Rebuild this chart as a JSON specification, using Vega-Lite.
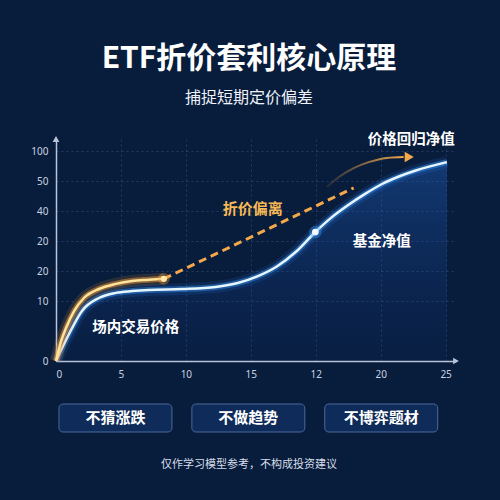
{
  "$schema": "https://vega.github.io/schema/vega-lite/v6.json",
  "background": "#081c3c",
  "padding": {"left": 30, "top": 43, "right": 32, "bottom": 31},
  "config": {
    "font": "Noto Sans CJK SC",
    "view": {"stroke": null},
    "axis": {"labelFont": "Noto Sans", "labelFontSize": 10, "labelColor": "#c8d2e0", "ticks": false, "domainColor": "#b8c4d8", "domainWidth": 1.5, "gridColor": "#4a6a9a", "gridOpacity": 0.4, "gridDash": [2, 3], "labelPadding": 8, "title": null}
  },
  "datasets": {
    "nav": [
      {"x": 0, "y": 0}, {"x": 1.0, "y": 0.9}, {"x": 2.0, "y": 1.67}, {"x": 3.3, "y": 2.1},
      {"x": 4.6, "y": 2.27}, {"x": 5.85, "y": 2.33}, {"x": 7.15, "y": 2.37}, {"x": 9.7, "y": 2.4},
      {"x": 12.3, "y": 2.47}, {"x": 14.0, "y": 2.6}, {"x": 15.5, "y": 2.82}, {"x": 17.0, "y": 3.15},
      {"x": 18.5, "y": 3.65}, {"x": 19.97, "y": 4.3}, {"x": 21.2, "y": 4.78}, {"x": 22.5, "y": 5.2},
      {"x": 23.8, "y": 5.57}, {"x": 25.1, "y": 5.9}, {"x": 26.4, "y": 6.15}, {"x": 27.7, "y": 6.35},
      {"x": 30.1, "y": 6.63}
    ],
    "price": [
      {"x": 0, "y": 0}, {"x": 0.4, "y": 0.67}, {"x": 0.77, "y": 1.1}, {"x": 1.4, "y": 1.67},
      {"x": 2.15, "y": 2.1}, {"x": 3.3, "y": 2.4}, {"x": 4.6, "y": 2.57}, {"x": 5.85, "y": 2.67},
      {"x": 7.15, "y": 2.71}, {"x": 8.3, "y": 2.74}
    ],
    "dash": [{"x": 8.3, "y": 2.74}, {"x": 22.92, "y": 5.77}],
    "arc": [
      {"x": 20.85, "y": 5.8}, {"x": 21.77, "y": 6.13}, {"x": 22.92, "y": 6.43},
      {"x": 24.08, "y": 6.63}, {"x": 25.46, "y": 6.77}, {"x": 26.77, "y": 6.8}
    ],
    "arrowhead": [{"x": 27.2, "y": 6.8}],
    "yarrow": [{"x": 0, "y": 7.4}],
    "xarrow": [{"x": 30.8, "y": 0}],
    "navdot": [{"x": 19.97, "y": 4.3}],
    "pricedot": [{"x": 8.3, "y": 2.74}],
    "whitelabels": [
      {"x": 27.35, "y": 7.37, "t": "价格回归净值"},
      {"x": 25.08, "y": 3.97, "t": "基金净值"},
      {"x": 6.15, "y": 1.1, "t": "场内交易价格"}
    ],
    "orangelabels": [{"x": 15.15, "y": 5.07, "t": "折价偏离"}],
    "boxes": [{"t": "不猜涨跌"}, {"t": "不做趋势"}, {"t": "不博弈题材"}]
  },
  "spacing": 18,
  "vconcat": [
    {
      "width": 400,
      "height": 222,
      "title": {
        "text": "ETF折价套利核心原理",
        "subtitle": "捕捉短期定价偏差",
        "fontSize": 30,
        "fontWeight": "bold",
        "color": "#ffffff",
        "subtitleColor": "#eef3fa",
        "subtitleFontSize": 16,
        "subtitleFontWeight": "normal",
        "subtitlePadding": 16,
        "anchor": "middle",
        "offset": 26,
        "dx": -7
      },
      "encoding": {
        "x": {
          "field": "x", "type": "quantitative",
          "scale": {"domain": [0, 30.8], "nice": false, "zero": false},
          "axis": {"values": [0, 5, 10, 15, 20, 25, 30], "grid": true,
            "labelExpr": "datum.value==20?'12':datum.value==25?'20':datum.value==30?'25':datum.label"}
        },
        "y": {
          "field": "y", "type": "quantitative",
          "scale": {"domain": [0, 7.4], "nice": false},
          "axis": {"values": [0, 2, 3, 4, 5, 6, 7], "grid": true,
            "labelExpr": "datum.value==2?'10':datum.value==3?'20':datum.value==4?'20':datum.value==5?'40':datum.value==6?'50':datum.value==7?'100':'0'"}
        }
      },
      "layer": [
        {"data": {"name": "nav"}, "mark": {"type": "area", "interpolate": "monotone",
          "color": {"gradient": "linear", "x1": 0, "y1": 0, "x2": 0, "y2": 1,
            "stops": [{"offset": 0, "color": "rgba(35,105,205,0.38)"}, {"offset": 1, "color": "rgba(20,60,140,0.08)"}]}}},
        {"data": {"name": "nav"}, "mark": {"type": "line", "interpolate": "monotone", "strokeWidth": 12, "color": "#2f8cff", "opacity": 0.12}},
        {"data": {"name": "nav"}, "mark": {"type": "line", "interpolate": "monotone", "strokeWidth": 6, "color": "#3a9cff", "opacity": 0.4}},
        {"data": {"name": "nav"}, "mark": {"type": "line", "interpolate": "monotone", "strokeWidth": 2.5, "color": "#e6f6ff"}},
        {"data": {"name": "price"}, "mark": {"type": "line", "interpolate": "monotone", "strokeWidth": 12, "color": "#ff9a2e", "opacity": 0.14}},
        {"data": {"name": "price"}, "mark": {"type": "line", "interpolate": "monotone", "strokeWidth": 6, "color": "#ffa238", "opacity": 0.45}},
        {"data": {"name": "price"}, "mark": {"type": "line", "interpolate": "monotone", "strokeWidth": 2.5, "color": "#ffe39a"}},
        {"data": {"name": "dash"}, "mark": {"type": "line", "strokeWidth": 3, "strokeDash": [8, 5], "color": "#f5a84a"}},
        {"data": {"name": "arc"}, "mark": {"type": "line", "interpolate": "monotone", "strokeWidth": 2,
          "stroke": {"gradient": "linear", "x1": 0, "y1": 0, "x2": 1, "y2": 0,
            "stops": [{"offset": 0, "color": "rgba(245,168,74,0.1)"}, {"offset": 1, "color": "#f5a84a"}]}}},
        {"data": {"name": "arrowhead"}, "mark": {"type": "point", "shape": "triangle-right", "filled": true, "size": 110, "color": "#f5a84a", "opacity": 1}},
        {"data": {"name": "yarrow"}, "mark": {"type": "point", "shape": "triangle-up", "filled": true, "size": 45, "color": "#b8c4d8", "opacity": 1}},
        {"data": {"name": "xarrow"}, "mark": {"type": "point", "shape": "triangle-right", "filled": true, "size": 45, "color": "#b8c4d8", "opacity": 1}},
        {"data": {"name": "navdot"}, "mark": {"type": "point", "filled": true, "size": 160, "color": "#3a9cff", "opacity": 0.35}},
        {"data": {"name": "navdot"}, "mark": {"type": "point", "filled": true, "size": 45, "color": "#f2faff", "opacity": 1}},
        {"data": {"name": "pricedot"}, "mark": {"type": "point", "filled": true, "size": 140, "color": "#ffa238", "opacity": 0.35}},
        {"data": {"name": "pricedot"}, "mark": {"type": "point", "filled": true, "size": 40, "color": "#ffe7a8", "opacity": 1}},
        {"data": {"name": "whitelabels"}, "mark": {"type": "text", "fontSize": 14.5, "fontWeight": "bold", "color": "#ffffff", "align": "center", "baseline": "middle"},
          "encoding": {"text": {"field": "t"}}},
        {"data": {"name": "orangelabels"}, "mark": {"type": "text", "fontSize": 15, "fontWeight": "bold", "color": "#f7b955", "align": "center", "baseline": "middle"},
          "encoding": {"text": {"field": "t"}}}
      ]
    },
    {
      "width": 400,
      "height": 28,
      "data": {"name": "boxes"},
      "title": {"text": "仅作学习模型参考，不构成投资建议", "orient": "bottom", "fontSize": 11, "fontWeight": "normal", "color": "#d6dde8", "offset": 26, "anchor": "middle", "dx": -7},
      "encoding": {
        "x": {"field": "t", "type": "nominal", "sort": null, "axis": null,
          "scale": {"paddingInner": 0.15, "paddingOuter": 0.08, "align": 0.14}}
      },
      "layer": [
        {"mark": {"type": "rect", "fill": "#0f2b5a", "stroke": "#4a6a9a", "strokeWidth": 1, "cornerRadius": 4}},
        {"mark": {"type": "text", "fontSize": 15, "fontWeight": "bold", "color": "#ffffff", "align": "center", "baseline": "middle"},
          "encoding": {"text": {"field": "t"}}}
      ]
    }
  ]
}
